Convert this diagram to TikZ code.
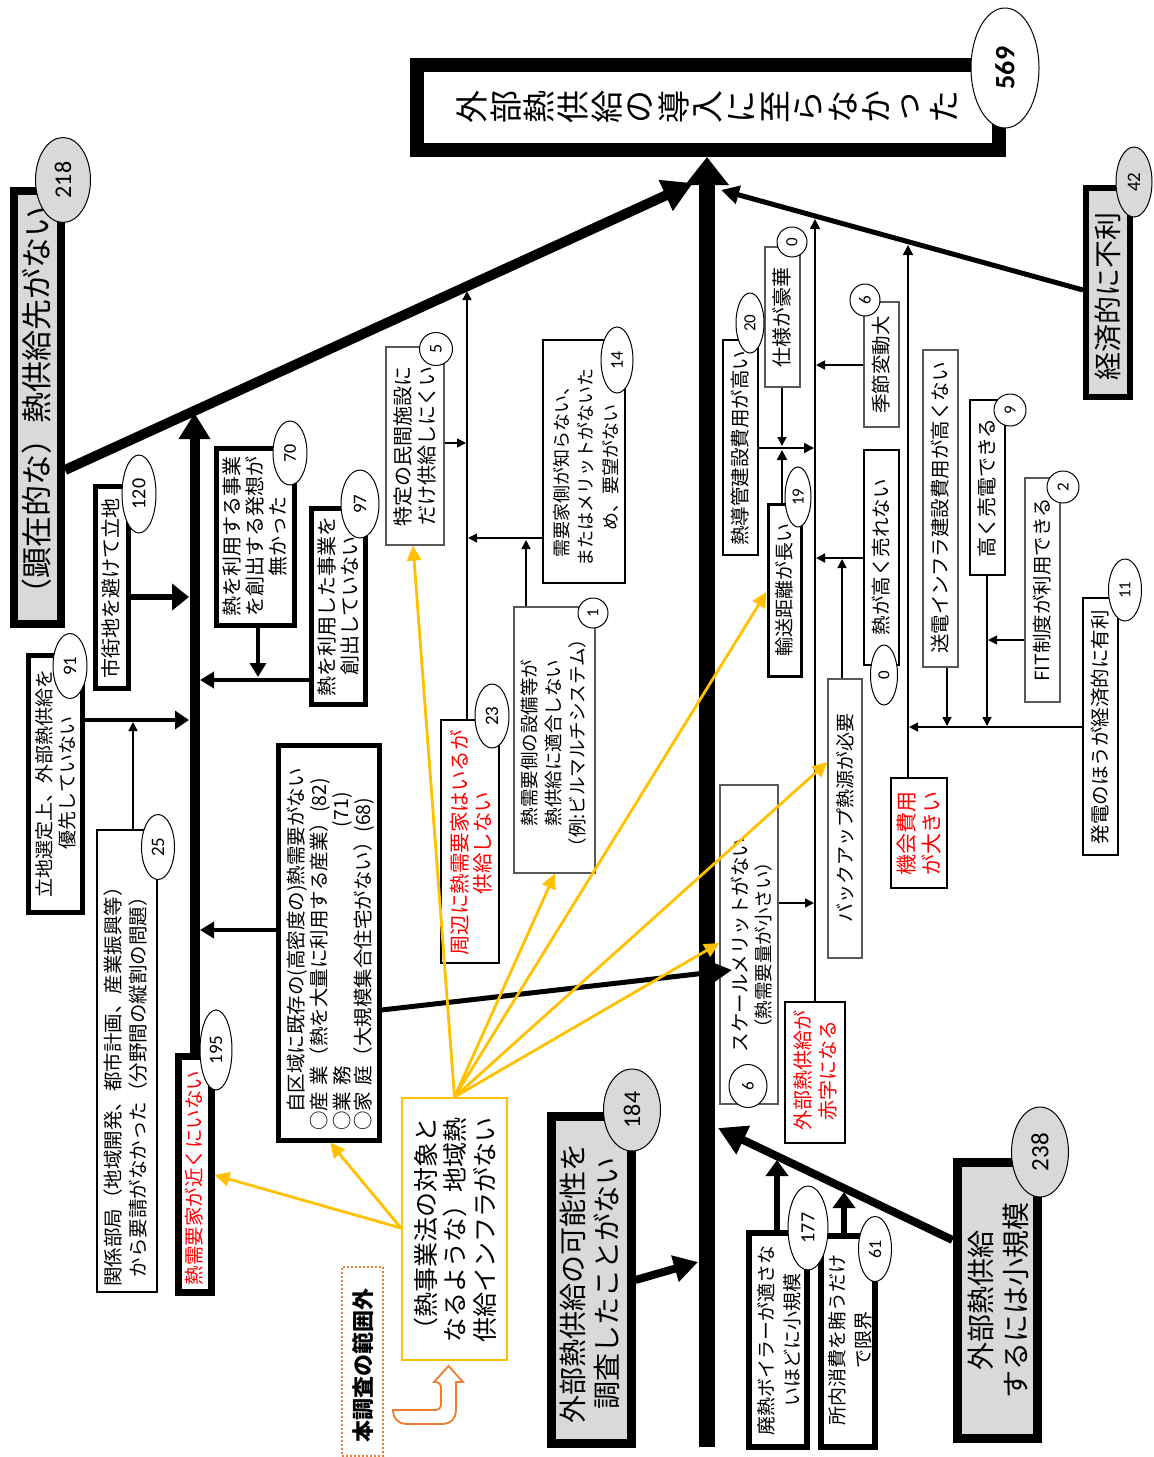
\documentclass[tikz,border=0pt]{standalone}
\usepackage{fontspec}
\setmainfont{Noto Sans CJK JP}
\newfontfamily\numfont{Carlito}
\usetikzlibrary{arrows.meta,fit,shapes.geometric,backgrounds}
\definecolor{boxgray}{HTML}{D9D9D9}
\definecolor{gold}{HTML}{FFC000}
\definecolor{orng}{HTML}{ED7D31}
\definecolor{edgegray}{HTML}{595959}
\definecolor{hotred}{HTML}{FF0000}
\newcommand\fz[2]{\fontsize{#1}{#2}\selectfont}

\tikzset{
  vt/.style={rotate=90, align=center, inner sep=0pt, font=\fz{20}{23}},
  redtxt/.style={text=hotred},
  titleframe/.style={draw, line width=14pt, fill=white, inner sep=0pt},
  graybox/.style={draw, line width=8pt, fill=boxgray, inner sep=0pt},
  heavybox/.style={draw, line width=5pt, fill=white, inner sep=0pt},
  midbox/.style={draw, line width=2pt, fill=white, inner sep=0pt},
  lightbox/.style={draw=edgegray, line width=1.2pt, fill=white, inner sep=0pt},
  numtag/.style={ellipse, draw, line width=1pt, fill=white, inner sep=0pt, rotate=90, font=\numfont\fz{17}{17}},
  graytag/.style={numtag, fill=boxgray},
  thinar/.style={line width=1.4pt, -{Triangle[length=9pt,width=9pt]}},
  yarrow/.style={draw=gold, line width=2.8pt, -{Triangle[length=15pt,width=14pt]}},
}

\begin{document}
\begin{tikzpicture}[x=1pt,y=-1pt]
\useasboundingbox (0,0) rectangle (1154,1457);

% ---------------- boxes
\node[titleframe, fit={(417,65) (999,150)}] (title) {};
\node[graybox, fit={(14,191) (61,624)}] (n218) {};
\node[graybox, line width=6pt, fit={(1086,188) (1130,397)}] (n42) {};
\node[graybox, line width=9pt, fit={(551,1116) (631,1443)}] (n184) {};
\node[graybox, line width=9pt, fit={(957,1162) (1037,1438)}] (n238) {};
\node[heavybox, fit={(95,486) (128,688)}] (n120) {};
\node[heavybox, fit={(28,655) (82,912)}] (n91) {};
\node[midbox, line width=1.6pt, fit={(97,830) (157,1292)}] (n25) {};
\node[heavybox, fit={(216,448) (294,625)}] (n70) {};
\node[heavybox, fit={(311,508) (365,704)}] (n97) {};
\node[heavybox, fit={(278,745) (379,1140)}] (nJiku) {};
\node[heavybox, line width=7pt, fit={(178,1056) (211,1292)}] (n195) {};
\node[lightbox, fit={(386,347) (444,545)}] (n5) {};
\node[midbox, line width=2.5pt, fit={(543,340) (625,583)}] (n14) {};
\node[lightbox, fit={(514,607) (595,873)}] (n1) {};
\node[midbox, fit={(441,720) (499,963)}] (n23) {};
\node[midbox, line width=2.5pt, fit={(723,340) (758,555)}] (n20) {};
\node[lightbox, fit={(765,247) (800,387)}] (n0a) {};
\node[heavybox, line width=3pt, fit={(768,504) (801,676)}] (n19) {};
\node[lightbox, fit={(864,302) (899,427)}] (n6a) {};
\node[midbox, line width=1.5pt, fit={(864,450) (899,665)}] (n0b) {};
\node[lightbox, fit={(923,350) (958,667)}] (nSoden) {};
\node[midbox, line width=1.5pt, fit={(970,400) (1005,575)}] (n9) {};
\node[lightbox, fit={(1025,478) (1060,702)}] (n2) {};
\node[midbox, line width=2.5pt, fit={(1083,598) (1118,855)}] (n11) {};
\node[midbox, fit={(891,778) (947,888)}] (nKikai) {};
\node[lightbox, fit={(828,679) (862,958)}] (nBack) {};
\node[lightbox, fit={(720,785) (778,1104)}] (nScale) {};
\node[midbox, line width=1.5pt, fit={(785,1002) (845,1143)}] (nAka) {};
\node[heavybox, line width=6pt, fit={(749,1233) (807,1447)}] (nHai) {};
\node[heavybox, line width=6pt, fit={(821,1236) (875,1447)}] (nSho) {};
\node[draw=gold, line width=2pt, fill=white, inner sep=0pt, fit={(402,1098) (507,1360)}] (nYel) {};
\node[draw=orng, dotted, line width=2pt, inner sep=0pt, fit={(342,1267) (383,1456)}] (nOut) {};

% ---------------- connectors (under the boxes)
\coordinate (spB) at (707,1447);
\begin{scope}[on background layer]
  % main spine
  \draw[line width=16pt, -{Triangle[length=28pt,width=42pt]}] (spB) -- (spB |- title.south);
  % left branch
  \draw[line width=10pt, -{Triangle[length=30pt,width=32pt]}] (n218.east |- 0,470) -- (693,183);
  \draw[line width=10pt, -{Triangle[length=26pt,width=30pt]}] (n195.north) -- (194.5,413);
  \draw[line width=6pt, -{Triangle[length=17pt,width=26pt]}] (n120.east |- 0,597) -- (189,597);
  \draw[line width=4pt, -{Triangle[length=14pt,width=18pt]}] (n91.east |- 0,720) -- (189,720);
  \draw[thinar] (n25.north -| 133,0) -- (133,722);
  \draw[line width=3.5pt, -{Triangle[length=14pt,width=16pt]}] (n70.south -| 258,0) -- (258,677);
  \draw[line width=3.5pt, -{Triangle[length=14pt,width=16pt]}] (n97.west |- 0,680) -- (200,680);
  \draw[line width=3.5pt, -{Triangle[length=14pt,width=16pt]}] (nJiku.west |- 0,930) -- (200,930);
  % middle column
  \draw[thinar] (n5.east |- 0,443) -- (466,443);
  \draw[thinar] (n23.north -| 467,0) -- (467,291);
  \draw[thinar] (n14.west |- 0,538) -- (468,538);
  \draw[thinar] (n1.north -| 526,0) -- (526,540);
  % bottom branches
  \draw[line width=8pt, -{Triangle[length=24pt,width=26pt]}] (n184.east |- 0,1280) -- (698,1262);
  \draw[line width=8pt, -{Triangle[length=28pt,width=30pt]}] (n238.west |- 0,1240) -- (718,1128);
  \draw[line width=6pt, -{Triangle[length=16pt,width=22pt]}] (nHai.north -| 777,0) -- (777,1160);
  \draw[line width=6pt, -{Triangle[length=16pt,width=22pt]}] (nSho.north -| 844,0) -- (844,1192);
  % right branch
  \draw[line width=5pt, -{Triangle[length=18pt,width=18pt]}] (n42.west |- 0,290) -- (721,190);
  \draw[line width=1.8pt, -{Triangle[length=10pt,width=10pt]}] (nAka.north -| 815,0) -- (815,219);
  \draw[line width=1.8pt, -{Triangle[length=10pt,width=10pt]}] (nKikai.north -| 908,0) -- (908,245);
  \draw[line width=2pt, -{Triangle[length=10pt,width=10pt]}] (n20.east |- 0,448) -- (814,448);
  \draw[thinar] (n0a.south -| 782,0) -- (782,446);
  \draw[line width=2.5pt, -{Triangle[length=10pt,width=10pt]}] (n19.north -| 782,0) -- (782,450);
  \draw[thinar] (n6a.west |- 0,365) -- (816,365);
  \draw[thinar] (n0b.west |- 0,558) -- (816,558);
  \draw[thinar] (nBack.north -| 842,0) -- (842,559);
  \draw[thinar] (nScale.east |- 0,903) -- (814,903);
  \draw[thinar] (nSoden.south -| 947,0) -- (947,726);
  \draw[thinar] (n9.south -| 987,0) -- (987,726);
  \draw[thinar] (n2.west |- 0,640) -- (988,640);
  \draw[thinar] (n11.west |- 0,727) -- (909,727);
\end{scope}
\draw[line width=5pt, -{Triangle[length=22pt,width=22pt]}] (nJiku.east |- 0,1010) -- (732,970);

% ---------------- title
\foreach \c [count=\i from 0] in {外,部,熱,供,給,の,導,入,に,至,ら,な,か,っ,た}
  \node[rotate=90, inner sep=0pt, font=\fz{33}{33}] (title\i) at ({472+\i*33.7},107) {\c};

% ---------------- texts
\node[vt, font=\fz{31}{31}] (n218t) at (37,408) {（顕在的な）熱供給先がない};
\node[vt, font=\fz{28}{28}] (n42t) at (1108,296) {経済的に不利};
\node[vt, font=\fz{28}{34}] (n184t) at (590,1283) {外部熱供給の可能性を\\調査したことがない};
\node[vt, font=\fz{28}{35}] (n238t) at (998,1300) {外部熱供給\\するには小規模};
\node[vt, font=\fz{25}{29.5}] (nYelt) at (455,1230) {（熱事業法の対象と\\なるような）地域熱\\供給インフラがない};
\node[vt, font=\bfseries\fz{22}{22}] (nOutt) at (363,1365) {本調査の範囲外};
\node[vt] (n120t) at (111,588) {市街地を避けて立地};
\node[vt, font=\fz{19}{23}] (n91t) at (56,783) {立地選定上、外部熱供給を\\優先していない};
\node[vt, font=\fz{19.5}{25}] (n25t) at (126,1082) {関係部局（地域開発、都市計画、産業振興等）\\から要請がなかった（分野間の縦割の問題）};
\node[vt] (n70t) at (255,536) {熱を利用する事業\\を創出する発想が\\無かった};
\node[vt] (n97t) at (338,606) {熱を利用した事業を\\創出していない};
\node[vt, anchor=west, font=\fz{19.5}{20}] (nJiku1) at (297,1113) {自区域に既存の(高密度の)熱需要がない};
\node[vt, anchor=west, font=\fz{19.5}{20}] (nJiku2) at (320,1131) {○産\hspace{0.3em}業（熱を大量に利用する産業）(82)};
\node[vt, anchor=west, font=\fz{19.5}{20}] (nJiku3) at (342,1131) {○業\hspace{0.3em}務};
\node[vt, anchor=east, font=\fz{19.5}{20}] (nJiku3n) at (342,792) {(71)};
\node[vt, anchor=west, font=\fz{19.5}{20}] (nJiku4) at (364,1131) {○家\hspace{0.3em}庭（大規模集合住宅がない）(68)};
\node[vt, redtxt, font=\fz{19.5}{20}] (n195t) at (194,1178) {熱需要家が近くにいない};
\node[vt, font=\fz{20}{24}] (n5t) at (415,446) {特定の民間施設に\\だけ供給しにくい};
\node[vt, font=\fz{18}{24.5}] (n14t) at (586,467) {需要家側が知らない、\\またはメリットがないた\\め、要望がない};
\node[vt, font=\fz{18.5}{24}] (n1t) at (554,743) {熱需要側の設備等が\\熱供給に適合しない\\（例:ビルマルチシステム）};
\node[vt, redtxt, font=\fz{20.5}{23}] (n23t) at (471,843) {周辺に熱需要家はいるが\\供給しない};
\node[vt, font=\fz{19.5}{20}] (n20t) at (740,448) {熱導管建設費用が高い};
\node[vt] (n0at) at (782,317) {仕様が豪華};
\node[vt, font=\fz{19}{20}] (n19t) at (784,590) {輸送距離が長い};
\node[vt, font=\fz{19.5}{20}] (n6at) at (881,365) {季節変動大};
\node[vt, font=\fz{19.5}{20}] (n0bt) at (881,557) {熱が高く売れない};
\node[vt, font=\fz{19.5}{20}] (nSodent) at (940,508) {送電インフラ建設費用が高くない};
\node[vt] (n9t) at (987,488) {高く売電できる};
\node[vt, font=\fz{19.5}{20}] (n2t) at (1042,590) {FIT制度が利用できる};
\node[vt, font=\fz{19.5}{20}] (n11t) at (1100,727) {発電のほうが経済的に有利};
\node[vt, redtxt, font=\fz{21}{25}] (nKikait) at (919,833) {機会費用\\が大きい};
\node[vt, font=\fz{19}{20}] (nBackt) at (845,818) {バックアップ熱源が必要};
\node[vt, font=\fz{19.5}{20}] (nScalet1) at (740,945) {スケールメリットがない};
\node[vt, font=\fz{18.5}{19}] (nScalet2) at (763,945) {（熱需要量が小さい）};
\node[vt, redtxt, font=\fz{20}{25}] (nAkat) at (815,1070) {外部熱供給が\\赤字になる};
\node[vt, font=\fz{19}{26}] (nHait) at (779,1340) {廃熱ボイラーが適さな\\いほどに小規模};
\node[vt, font=\fz{19}{26}] (nShot) at (850,1340) {所内消費を賄うだけ\\で限界};

% ---------------- count tags
\node[numtag, minimum width=120pt, minimum height=68pt, font=\numfont\bfseries\fz{28}{28}] (e569) at (1005,68) {569};
\node[graytag, minimum width=85pt, minimum height=55pt, font=\numfont\fz{24}{24}] (e218) at (63,180) {218};
\node[graytag, minimum width=70pt, minimum height=36pt, font=\numfont\fz{19}{19}] (e42) at (1134,182) {42};
\node[graytag, minimum width=82pt, minimum height=57pt, font=\numfont\fz{24}{24}] (e184) at (632,1110) {184};
\node[graytag, minimum width=90pt, minimum height=57pt, font=\numfont\fz{25}{25}] (e238) at (1040,1152) {238};
\node[numtag, minimum width=78pt, minimum height=34pt, font=\numfont\fz{20}{20}] (e120) at (139,494) {120};
\node[numtag, minimum width=65pt, minimum height=34pt, font=\numfont\fz{19}{19}] (e91) at (70,666) {91};
\node[numtag, minimum width=65pt, minimum height=33pt, font=\numfont\fz{19}{19}] (e25) at (158,847) {25};
\node[numtag, minimum width=64pt, minimum height=34pt, font=\numfont\fz{18}{18}] (e70) at (290,453) {70};
\node[numtag, minimum width=68pt, minimum height=38pt, font=\numfont\fz{19}{19}] (e97) at (360,504) {97};
\node[numtag, minimum width=80pt, minimum height=32pt, font=\numfont\fz{19}{19}] (e195) at (216,1050) {195};
\node[numtag, minimum width=33pt, minimum height=33pt, font=\numfont\fz{18}{18}] (e5) at (436,349) {5};
\node[numtag, minimum width=66pt, minimum height=32pt, font=\numfont\fz{18}{18}] (e14) at (617,360) {14};
\node[numtag, minimum width=30pt, minimum height=30pt] (e1) at (593,613) {1};
\node[numtag, minimum width=64pt, minimum height=34pt, font=\numfont\fz{19}{19}] (e23) at (492,716) {23};
\node[numtag, minimum width=60pt, minimum height=28pt] (e20) at (750,323) {20};
\node[numtag, minimum width=30pt, minimum height=30pt] (e0a) at (792,242) {0};
\node[numtag, minimum width=60pt, minimum height=26pt] (e19) at (798,497) {19};
\node[numtag, minimum width=32pt, minimum height=30pt] (e6a) at (865,300) {6};
\node[numtag, minimum width=60pt, minimum height=27pt] (e0b) at (884,675) {0};
\node[numtag, minimum width=32pt, minimum height=32pt] (e9) at (1010,410) {9};
\node[numtag, minimum width=32pt, minimum height=32pt] (e2) at (1063,487) {2};
\node[numtag, minimum width=62pt, minimum height=33pt] (e11) at (1125,590) {11};
\node[numtag, minimum width=43pt, minimum height=38pt] (e6b) at (748,1086) {6};
\node[numtag, minimum width=84pt, minimum height=40pt, font=\numfont\fz{20}{20}] (e177) at (808,1228) {177};
\node[numtag, minimum width=65pt, minimum height=33pt, font=\numfont\fz{18}{18}] (e61) at (875,1249) {61};

% ---------------- out-of-scope arrows (yellow)
\draw[yarrow] (nYel.north) -- (n5.south -| 413,0);
\draw[yarrow] (nYel.north) -- (n1.south -| 555,0);
\draw[yarrow] (nYel.north) -- (n19.west |- 0,592);
\draw[yarrow] (nYel.north) -- (nBack.west |- 0,762);
\draw[yarrow] (nYel.north) -- (nScale.west |- 0,943);
\draw[yarrow] (nYel.west |- 0,1228) -- (n195.east |- 0,1175);
\draw[yarrow] (nYel.west |- 0,1228) -- (nJiku.south -| 330,0);

% ---------------- hollow turn-up arrow
\draw[orng, line width=1.8pt, fill=white]
  (393,1410) [rounded corners=5pt] -- (441,1410) -- (441,1382) [sharp corners]
  -- (434,1382) -- (448.5,1366) -- (463,1382) -- (456,1382)
  [rounded corners=13pt] -- (456,1424) -- (393,1424) [sharp corners] -- cycle;
\end{tikzpicture}
\end{document}
